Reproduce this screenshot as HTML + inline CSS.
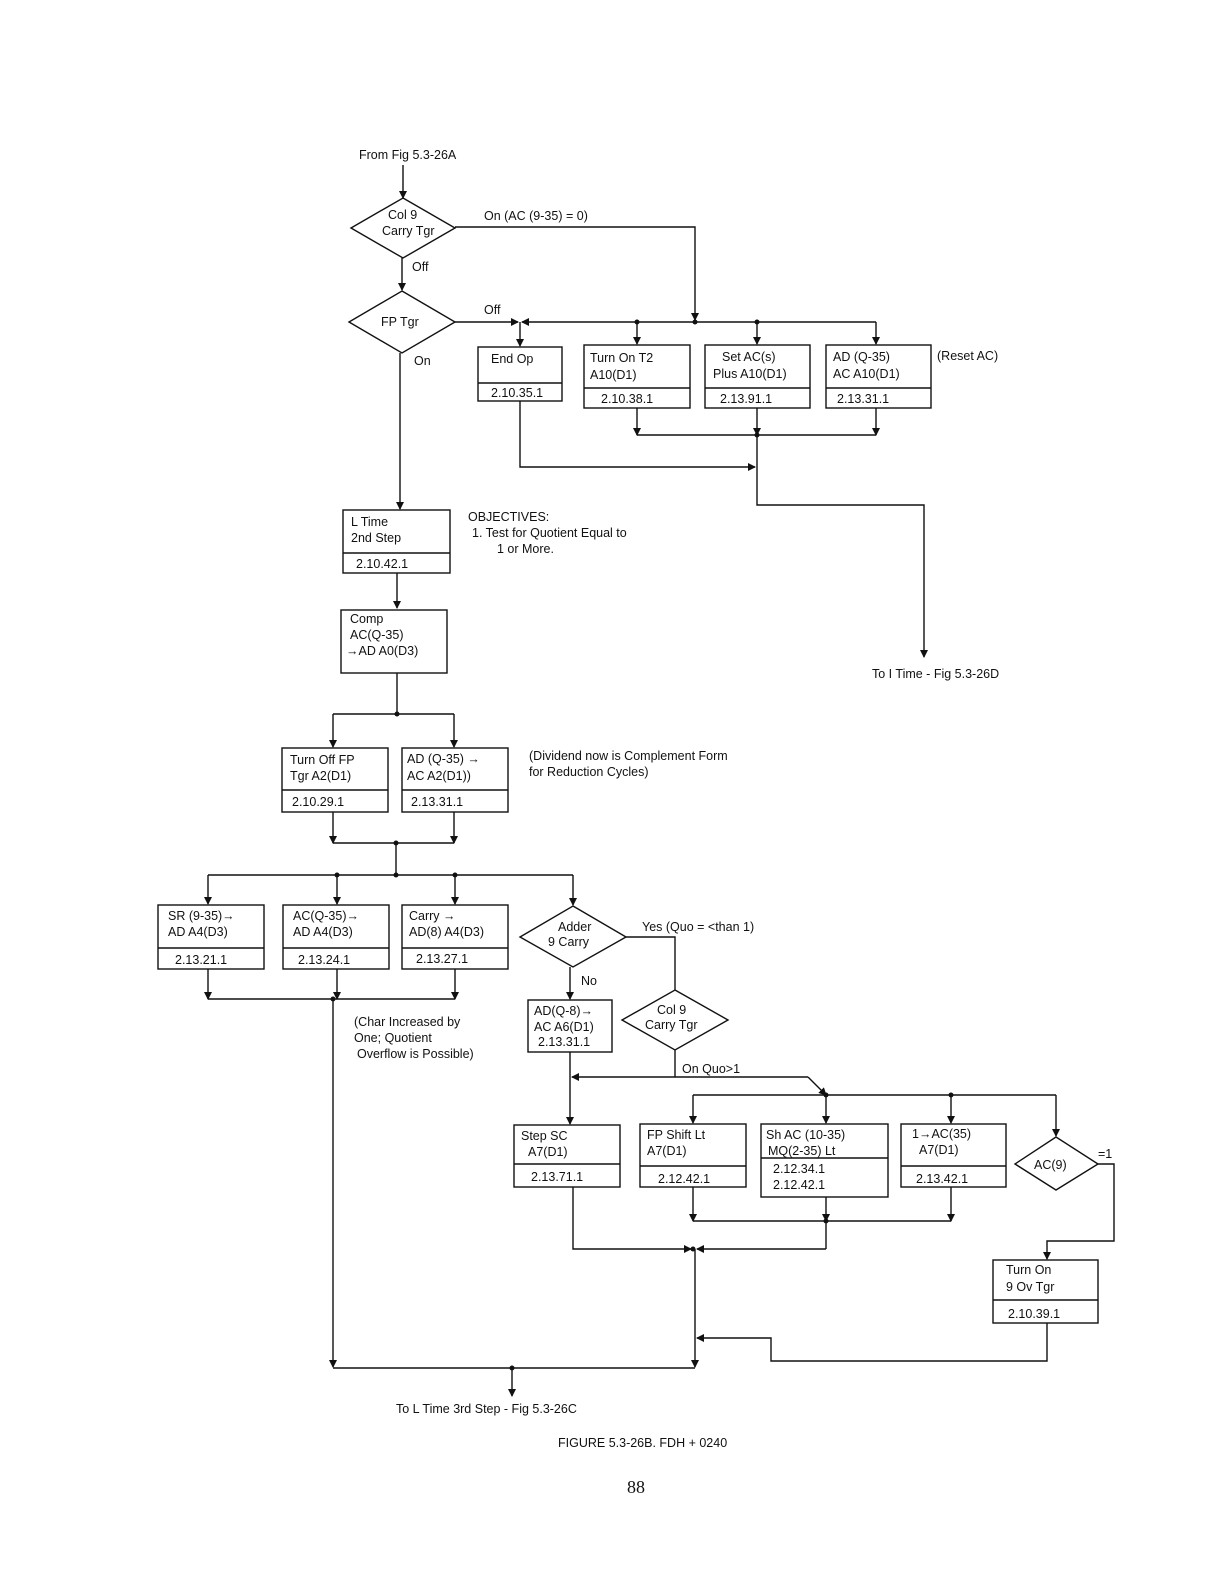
<!DOCTYPE html>
<html><head><meta charset="utf-8"><style>
html,body{margin:0;padding:0;background:#fff;width:1224px;height:1584px;overflow:hidden;}
svg{display:block;position:absolute;left:0;top:0;}
text{font-family:"Liberation Sans",sans-serif;font-size:12.5px;fill:#111;}
</style></head><body>
<svg width="1224" height="1584" viewBox="0 0 1224 1584" xmlns="http://www.w3.org/2000/svg">
<defs>
<marker id="a" markerWidth="8" markerHeight="10" refX="7" refY="5" orient="auto" markerUnits="userSpaceOnUse">
<path d="M0,1 L8,5 L0,9 Z" fill="#111"/></marker>
</defs>
<g fill="none" stroke="#111" stroke-width="1.4">
<line x1="403" y1="165" x2="403" y2="198" marker-end="url(#a)"/>
<polygon points="403,198 455,228 403,258 351,228"/>
<polyline points="455,227 695,227 695,320" marker-end="url(#a)"/>
<line x1="402" y1="258" x2="402" y2="290" marker-end="url(#a)"/>
<polygon points="402,291 455,322 402,353 349,322"/>
<line x1="455" y1="322" x2="518" y2="322" marker-end="url(#a)"/>
<line x1="876" y1="322" x2="522" y2="322" marker-end="url(#a)"/>
<line x1="520" y1="322" x2="520" y2="346" marker-end="url(#a)"/>
<line x1="637" y1="322" x2="637" y2="344" marker-end="url(#a)"/>
<line x1="757" y1="322" x2="757" y2="344" marker-end="url(#a)"/>
<line x1="876" y1="322" x2="876" y2="344" marker-end="url(#a)"/>
<line x1="400" y1="353" x2="400" y2="509" marker-end="url(#a)"/>
<rect x="478" y="347" width="84" height="54"/><line x1="478" y1="383" x2="562" y2="383"/>
<rect x="584" y="345" width="106" height="63"/><line x1="584" y1="388" x2="690" y2="388"/>
<rect x="705" y="345" width="105" height="63"/><line x1="705" y1="388" x2="810" y2="388"/>
<rect x="826" y="345" width="105" height="63"/><line x1="826" y1="388" x2="931" y2="388"/>
<line x1="637" y1="408" x2="637" y2="435" marker-end="url(#a)"/>
<line x1="757" y1="408" x2="757" y2="435" marker-end="url(#a)"/>
<line x1="876" y1="408" x2="876" y2="435" marker-end="url(#a)"/>
<line x1="637" y1="435" x2="876" y2="435"/>
<polyline points="757,435 757,505 924,505 924,657" marker-end="url(#a)"/>
<polyline points="520,401 520,467 755,467" marker-end="url(#a)"/>
<rect x="343" y="510" width="107" height="63"/><line x1="343" y1="553" x2="450" y2="553"/>
<line x1="397" y1="573" x2="397" y2="608" marker-end="url(#a)"/>
<rect x="341" y="610" width="106" height="63"/>
<line x1="397" y1="673" x2="397" y2="714"/>
<line x1="333" y1="714" x2="454" y2="714"/>
<line x1="333" y1="714" x2="333" y2="747" marker-end="url(#a)"/>
<line x1="454" y1="714" x2="454" y2="747" marker-end="url(#a)"/>
<rect x="282" y="748" width="106" height="64"/><line x1="282" y1="790" x2="388" y2="790"/>
<rect x="402" y="748" width="106" height="64"/><line x1="402" y1="790" x2="508" y2="790"/>
<line x1="333" y1="812" x2="333" y2="843" marker-end="url(#a)"/>
<line x1="454" y1="812" x2="454" y2="843" marker-end="url(#a)"/>
<line x1="333" y1="843" x2="454" y2="843"/>
<line x1="396" y1="843" x2="396" y2="875"/>
<line x1="208" y1="875" x2="573" y2="875"/>
<line x1="208" y1="875" x2="208" y2="904" marker-end="url(#a)"/>
<line x1="337" y1="875" x2="337" y2="904" marker-end="url(#a)"/>
<line x1="455" y1="875" x2="455" y2="904" marker-end="url(#a)"/>
<line x1="573" y1="875" x2="573" y2="905" marker-end="url(#a)"/>
<rect x="158" y="905" width="106" height="64"/><line x1="158" y1="948" x2="264" y2="948"/>
<rect x="283" y="905" width="106" height="64"/><line x1="283" y1="948" x2="389" y2="948"/>
<rect x="402" y="905" width="106" height="64"/><line x1="402" y1="948" x2="508" y2="948"/>
<line x1="208" y1="969" x2="208" y2="999" marker-end="url(#a)"/>
<line x1="337" y1="969" x2="337" y2="999" marker-end="url(#a)"/>
<line x1="455" y1="969" x2="455" y2="999" marker-end="url(#a)"/>
<line x1="208" y1="999" x2="455" y2="999"/>
<line x1="333" y1="999" x2="333" y2="1367" marker-end="url(#a)"/>
<polygon points="573,906 626,937 573,967 520,937"/>
<polyline points="626,937 675,937 675,990"/>
<line x1="570" y1="967" x2="570" y2="999" marker-end="url(#a)"/>
<rect x="528" y="1000" width="84" height="52"/>
<polygon points="675,990 728,1020 675,1050 622,1020"/>
<line x1="675" y1="1050" x2="675" y2="1077"/>
<line x1="808" y1="1077" x2="572" y2="1077" marker-end="url(#a)"/>
<polyline points="808,1077 826,1095" marker-end="url(#a)"/>
<line x1="570" y1="1052" x2="570" y2="1124" marker-end="url(#a)"/>
<line x1="693" y1="1095" x2="1056" y2="1095"/>
<line x1="693" y1="1095" x2="693" y2="1123" marker-end="url(#a)"/>
<line x1="826" y1="1095" x2="826" y2="1123" marker-end="url(#a)"/>
<line x1="951" y1="1095" x2="951" y2="1123" marker-end="url(#a)"/>
<line x1="1056" y1="1095" x2="1056" y2="1136" marker-end="url(#a)"/>
<rect x="514" y="1125" width="106" height="62"/><line x1="514" y1="1164" x2="620" y2="1164"/>
<rect x="640" y="1124" width="106" height="63"/><line x1="640" y1="1166" x2="746" y2="1166"/>
<rect x="761" y="1124" width="127" height="73"/><line x1="761" y1="1158" x2="888" y2="1158"/>
<rect x="901" y="1124" width="105" height="63"/><line x1="901" y1="1166" x2="1006" y2="1166"/>
<polygon points="1056,1137 1098,1164 1056,1190 1015,1164"/>
<polyline points="1098,1164 1114,1164 1114,1241 1047,1241 1047,1259" marker-end="url(#a)"/>
<rect x="993" y="1260" width="105" height="63"/><line x1="993" y1="1300" x2="1098" y2="1300"/>
<polyline points="1047,1323 1047,1361 771,1361 771,1338 697,1338" marker-end="url(#a)"/>
<line x1="693" y1="1187" x2="693" y2="1221" marker-end="url(#a)"/>
<line x1="826" y1="1197" x2="826" y2="1221" marker-end="url(#a)"/>
<line x1="951" y1="1187" x2="951" y2="1221" marker-end="url(#a)"/>
<line x1="693" y1="1221" x2="951" y2="1221"/>
<line x1="826" y1="1221" x2="826" y2="1249"/>
<polyline points="573,1187 573,1249 691,1249" marker-end="url(#a)"/>
<line x1="826" y1="1249" x2="697" y2="1249" marker-end="url(#a)"/>
<line x1="695" y1="1249" x2="695" y2="1367" marker-end="url(#a)"/>
<line x1="333" y1="1368" x2="695" y2="1368"/>
<line x1="512" y1="1368" x2="512" y2="1396" marker-end="url(#a)"/>
</g>
<g fill="#111">
<circle cx="695" cy="322" r="2.5"/><circle cx="637" cy="322" r="2.5"/><circle cx="757" cy="322" r="2.5"/>
<circle cx="757" cy="435" r="2.5"/><circle cx="397" cy="714" r="2.5"/><circle cx="396" cy="843" r="2.5"/>
<circle cx="337" cy="875" r="2.5"/><circle cx="396" cy="875" r="2.5"/><circle cx="455" cy="875" r="2.5"/>
<circle cx="333" cy="999" r="2.5"/><circle cx="826" cy="1095" r="2.5"/><circle cx="951" cy="1095" r="2.5"/>
<circle cx="826" cy="1221" r="2.5"/><circle cx="512" cy="1368" r="2.5"/><circle cx="693" cy="1249" r="2.5"/>
</g>
<text x="359" y="159">From Fig 5.3-26A</text>
<text x="388" y="219">Col 9</text><text x="382" y="235">Carry Tgr</text>
<text x="484" y="220">On (AC (9-35) = 0)</text>
<text x="412" y="271">Off</text>
<text x="381" y="326">FP Tgr</text>
<text x="484" y="314">Off</text>
<text x="414" y="365">On</text>
<text x="491" y="363">End Op</text><text x="491" y="397">2.10.35.1</text>
<text x="590" y="362">Turn On T2</text><text x="590" y="379">A10(D1)</text><text x="601" y="403">2.10.38.1</text>
<text x="722" y="361">Set AC(s)</text><text x="713" y="378">Plus A10(D1)</text><text x="720" y="403">2.13.91.1</text>
<text x="833" y="361">AD (Q-35)</text><text x="833" y="378">AC A10(D1)</text><text x="837" y="403">2.13.31.1</text>
<text x="937" y="360">(Reset AC)</text>
<text x="872" y="678">To I Time - Fig 5.3-26D</text>
<text x="351" y="526">L Time</text><text x="351" y="542">2nd Step</text><text x="356" y="568">2.10.42.1</text>
<text x="468" y="521">OBJECTIVES:</text><text x="472" y="537">1.  Test for Quotient Equal to</text><text x="497" y="553">1 or More.</text>
<text x="350" y="623">Comp</text><text x="350" y="639">AC(Q-35)</text><text x="346" y="655">→AD A0(D3)</text>
<text x="290" y="764">Turn Off FP</text><text x="290" y="780">Tgr A2(D1)</text><text x="292" y="806">2.10.29.1</text>
<text x="407" y="763">AD (Q-35) →</text><text x="407" y="780">AC A2(D1))</text><text x="411" y="806">2.13.31.1</text>
<text x="529" y="760">(Dividend now is Complement Form</text><text x="529" y="776">for Reduction Cycles)</text>
<text x="168" y="920">SR (9-35)→</text><text x="168" y="936">AD A4(D3)</text><text x="175" y="964">2.13.21.1</text>
<text x="293" y="920">AC(Q-35)→</text><text x="293" y="936">AD A4(D3)</text><text x="298" y="964">2.13.24.1</text>
<text x="409" y="920">Carry →</text><text x="409" y="936">AD(8) A4(D3)</text><text x="416" y="963">2.13.27.1</text>
<text x="558" y="931">Adder</text><text x="548" y="946">9 Carry</text>
<text x="642" y="931">Yes   (Quo = &lt;than 1)</text>
<text x="581" y="985">No</text>
<text x="534" y="1015">AD(Q-8)→</text><text x="534" y="1031">AC A6(D1)</text><text x="538" y="1046">2.13.31.1</text>
<text x="657" y="1014">Col 9</text><text x="645" y="1029">Carry Tgr</text>
<text x="682" y="1073">On  Quo&gt;1</text>
<text x="354" y="1026">(Char Increased by</text><text x="354" y="1042">One;  Quotient</text><text x="357" y="1058">Overflow is Possible)</text>
<text x="521" y="1140">Step SC</text><text x="528" y="1156">A7(D1)</text><text x="531" y="1181">2.13.71.1</text>
<text x="647" y="1139">FP Shift Lt</text><text x="647" y="1155">A7(D1)</text><text x="658" y="1183">2.12.42.1</text>
<text x="766" y="1139">Sh AC (10-35)</text><text x="768" y="1155">MQ(2-35) Lt</text><text x="773" y="1173">2.12.34.1</text><text x="773" y="1189">2.12.42.1</text>
<text x="912" y="1138">1→AC(35)</text><text x="919" y="1154">A7(D1)</text><text x="916" y="1183">2.13.42.1</text>
<text x="1034" y="1169">AC(9)</text><text x="1098" y="1158">=1</text>
<text x="1006" y="1274">Turn On</text><text x="1006" y="1291">9 Ov Tgr</text><text x="1008" y="1318">2.10.39.1</text>
<text x="396" y="1413">To L Time 3rd Step - Fig 5.3-26C</text>
<text x="558" y="1447">FIGURE  5.3-26B.  FDH + 0240</text>
<text x="627" y="1493" style="font-family:'Liberation Serif',serif;font-size:18px">88</text>
</svg>
</body></html>
